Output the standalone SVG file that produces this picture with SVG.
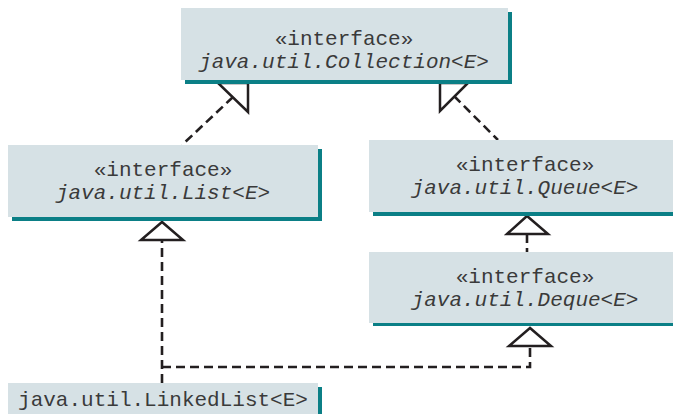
<svg xmlns="http://www.w3.org/2000/svg" width="673" height="414" viewBox="0 0 673 414">
  <style>
    .box { fill: #d6e1e5; }
    .shadow { fill: #0b7f86; }
    .t { font-family: "Liberation Mono", "DejaVu Sans Mono", monospace; font-size: 21px; fill: #3a3a3a; text-anchor: middle; }
    .i { font-style: italic; }
    .dash { fill: none; stroke: #231f20; stroke-width: 2.6; stroke-dasharray: 9 5; }
    .tri { fill: #ffffff; stroke: #231f20; stroke-width: 2.5; stroke-linejoin: miter; }
  </style>
  <rect width="673" height="414" fill="#ffffff"/>

  <g id="connectors">
    <path class="dash" d="M233,97 L182,145"/>
    <path class="dash" d="M454,96 L498,140"/>
    <path class="dash" d="M527,234 L527,252"/>
    <path class="dash" d="M162,383 L162,240"/>
    <path class="dash" d="M162,367 L530,367 L530,346"/>
    <polygon class="tri" points="218,83 248,83 248,112"/>
    <polygon class="tri" points="440,83 468,83 440,111"/>
    <polygon class="tri" points="527,216 507,234 548,234"/>
    <polygon class="tri" points="162,222 141,240 183,240"/>
    <polygon class="tri" points="530,328 509,346 551,346"/>
  </g>

  <g id="collection">
    <rect class="shadow" x="185" y="12" width="327" height="72"/>
    <rect class="box" x="181" y="8" width="327" height="72"/>
    <text class="t" x="344" y="45">«interface»</text>
    <text class="t i" x="344" y="68">java.util.Collection&lt;E&gt;</text>
  </g>

  <g id="list">
    <rect class="shadow" x="12" y="149" width="310" height="72"/>
    <rect class="box" x="8" y="145" width="310" height="72"/>
    <text class="t" x="163" y="176">«interface»</text>
    <text class="t i" x="163" y="199">java.util.List&lt;E&gt;</text>
  </g>

  <g id="queue">
    <rect class="shadow" x="373" y="144" width="310" height="72"/>
    <rect class="box" x="369" y="140" width="310" height="72"/>
    <text class="t" x="525" y="171">«interface»</text>
    <text class="t i" x="525" y="194">java.util.Queue&lt;E&gt;</text>
  </g>

  <g id="deque">
    <rect class="shadow" x="373" y="255" width="310" height="71"/>
    <rect class="box" x="369" y="252" width="310" height="71"/>
    <text class="t" x="525" y="283">«interface»</text>
    <text class="t i" x="525" y="306">java.util.Deque&lt;E&gt;</text>
  </g>

  <g id="linkedlist">
    <rect class="shadow" x="12" y="387" width="310" height="40"/>
    <rect class="box" x="8" y="383" width="310" height="40"/>
    <text class="t" x="163" y="406">java.util.LinkedList&lt;E&gt;</text>
  </g>
</svg>
